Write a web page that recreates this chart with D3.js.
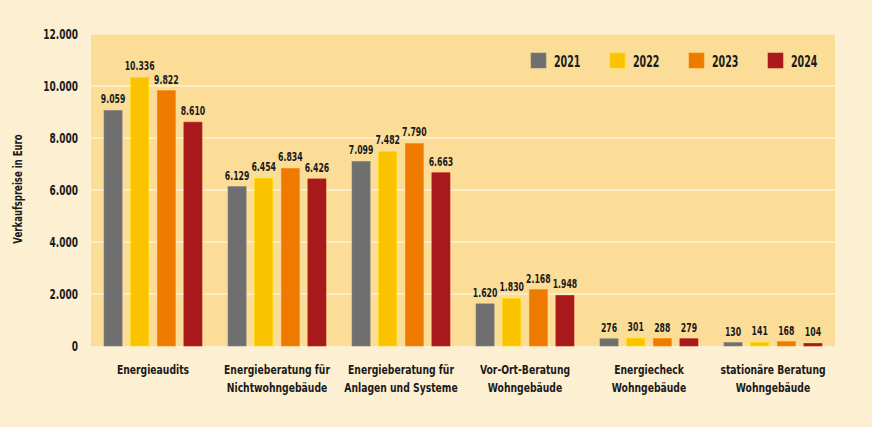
<!DOCTYPE html>
<html>
<head>
<meta charset="utf-8">
<script src="https://cdn.jsdelivr.net/npm/d3@7"></script>
<style>
  body { margin: 0; background: #fcefd2; }
  svg text { font-family: "DejaVu Sans Condensed", "DejaVu Sans", sans-serif; font-weight: 700; fill: #1a1a1a; }
</style>
</head>
<body>
<div id="chart"></div>
<script>
// Verkaufspreise nach Beratungsart und Jahr
const categories = [
    ['Energieaudits'],
    ['Energieberatung für', 'Nichtwohngebäude'],
    ['Energieberatung für', 'Anlagen und Systeme'],
    ['Vor-Ort-Beratung', 'Wohngebäude'],
    ['Energiecheck', 'Wohngebäude'],
    ['stationäre Beratung', 'Wohngebäude']
];
const years = ['2021', '2022', '2023', '2024'];
const values2021 = [9059, 6129, 7099, 1620, 276, 130];
const values2022 = [10336, 6454, 7482, 1830, 301, 141];
const values2023 = [9822, 6834, 7790, 2168, 288, 168];
const values2024 = [8610, 6426, 6663, 1948, 279, 104];
const yTicks = [0, 2000, 4000, 6000, 8000, 10000, 12000];
const colors = ['#6f6f6f', '#fbc200', '#ee7a00', '#a8191b'];

const series = [values2021, values2022, values2023, values2024];

const W = 872, H = 427;
const margin = { top: 34, right: 37, bottom: 81, left: 91 };
const width = W - margin.left - margin.right;
const height = H - margin.top - margin.bottom;

// schmale Schrift nachbilden: Text horizontal stauchen
function narrow(sel, sx) {
    sel.each(function () {
        const t = d3.select(this);
        const x = +t.attr('x') || 0, y = +t.attr('y') || 0;
        const rot = t.attr('data-rot');
        t.attr('x', 0).attr('y', 0)
            .attr('transform', `translate(${x},${y})${rot ? ` rotate(${rot})` : ''} scale(${sx},1)`);
        t.selectAll('tspan').attr('x', 0);
    });
}

const svg = d3.select('#chart').append('svg')
    .attr('width', W)
    .attr('height', H);

const g = svg.append('g')
    .attr('transform', `translate(${margin.left},${margin.top})`);

// Hintergrund Plotbereich
g.append('rect')
    .attr('width', width)
    .attr('height', height)
    .attr('fill', '#fbdd98');

const x0 = d3.scaleBand().domain(d3.range(categories.length)).range([0, width]);
const x1 = d3.scaleBand().domain(years).range([13, x0.bandwidth() - 13]).paddingInner(0.32);
const y = d3.scaleLinear().domain([0, 12000]).range([height, 0]);

const fmt = v => d3.format(',')(v).replace(/,/g, '.');

// Gitterlinien
g.append('g')
    .selectAll('line')
    .data(yTicks.filter(t => t > 0))
    .join('line')
    .attr('x1', 0)
    .attr('x2', width)
    .attr('y1', d => y(d))
    .attr('y2', d => y(d))
    .attr('stroke', '#fdf1d6')
    .attr('stroke-width', 1.5);

// Y-Achse (Beschriftung)
g.append('g')
    .selectAll('text')
    .data(yTicks)
    .join('text')
    .attr('x', -13)
    .attr('y', d => y(d) + 5)
    .attr('text-anchor', 'end')
    .style('font-size', '13.5px')
    .text(fmt)
    .call(narrow, 0.74);

g.append('text')
    .attr('x', 22 - margin.left)
    .attr('y', height / 2 - 1)
    .attr('data-rot', -90)
    .attr('text-anchor', 'middle')
    .style('font-size', '12.5px')
    .text('Verkaufspreise in Euro')
    .call(narrow, 0.76);

// Balken
const groups = g.append('g')
    .selectAll('g')
    .data(categories.map((c, i) => i))
    .join('g')
    .attr('transform', i => `translate(${x0(i)},0)`);

const barData = i => years.map((yr, k) => ({ yr, k, v: series[k][i] }));

groups.selectAll('rect')
    .data(barData)
    .join('rect')
    .attr('x', d => x1(d.yr))
    .attr('y', d => y(d.v))
    .attr('width', x1.bandwidth())
    .attr('height', d => y(0) - y(d.v))
    .attr('fill', d => colors[d.k])
    .attr('stroke', d => d3.color(colors[d.k]).brighter(0.4))
    .attr('stroke-width', 0.6);

groups.selectAll('text.val')
    .data(barData)
    .join('text')
    .attr('class', 'val')
    .attr('x', d => x1(d.yr) + x1.bandwidth() / 2)
    .attr('y', d => y(d.v) - 7)
    .attr('text-anchor', 'middle')
    .style('font-size', '12px')
    .text(d => fmt(d.v))
    .call(narrow, 0.72);

// Kategorien
const labels = g.append('g')
    .selectAll('text')
    .data(categories)
    .join('text')
    .attr('x', (c, i) => x0(i) + x0.bandwidth() / 2)
    .attr('y', height + 28)
    .attr('text-anchor', 'middle')
    .style('font-size', '13px');

labels.selectAll('tspan')
    .data(c => c)
    .join('tspan')
    .attr('dy', (d, j) => j === 0 ? 0 : 18.5)
    .text(d => d);

labels.call(narrow, 0.79);

// Legende
const legend = g.append('g')
    .selectAll('g')
    .data(years)
    .join('g')
    .attr('transform', (d, i) => `translate(${440 + i * 79},${19})`);

legend.append('rect')
    .attr('width', 15)
    .attr('height', 15)
    .attr('fill', (d, i) => colors[i])
    .attr('stroke', (d, i) => d3.color(colors[i]).brighter(0.4))
    .attr('stroke-width', 0.6);

legend.append('text')
    .attr('x', 23)
    .attr('y', 14)
    .style('font-size', '16px')
    .text(d => d)
    .call(narrow, 0.66);
</script>
</body>
</html>
